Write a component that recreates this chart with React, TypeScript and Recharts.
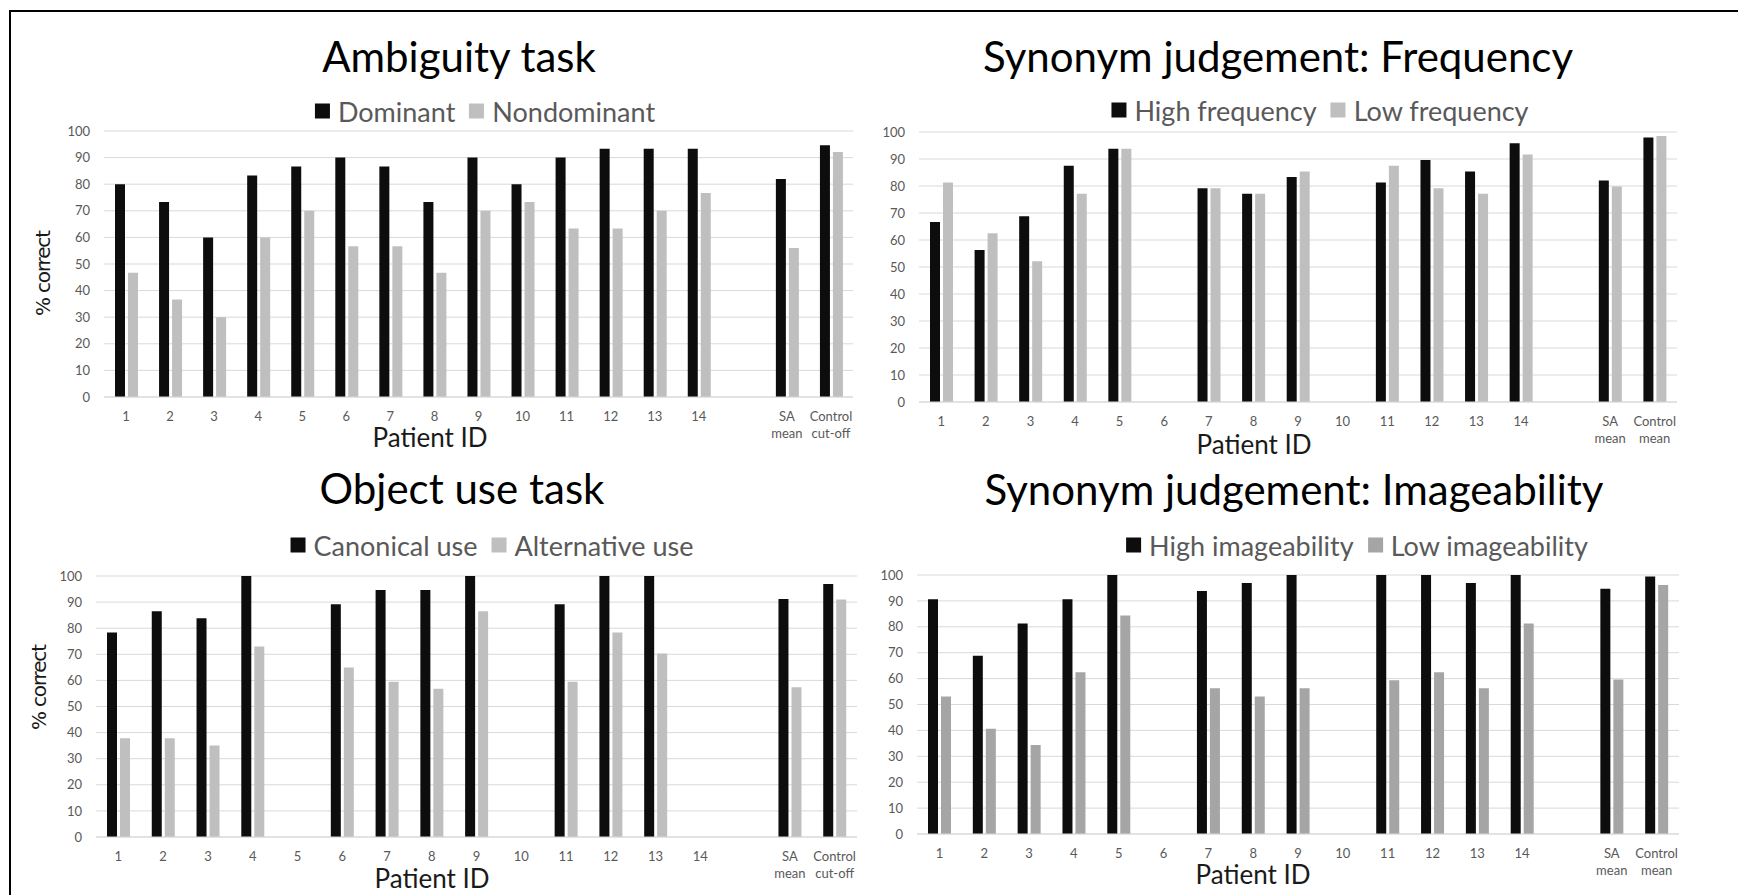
import { BarChart, Bar, XAxis, YAxis, CartesianGrid } from 'recharts';

// patient IDs, one empty slot, then the two summary columns
const PATIENTS = ['1', '2', '3', '4', '5', '6', '7', '8', '9', '10', '11', '12', '13', '14', ' '];
const CUTOFF_CATS = [...PATIENTS, 'SA\nmean', 'Control\ncut-off'];
const MEAN_CATS = [...PATIENTS, 'SA\nmean', 'Control\nmean'];
const Y_TICKS = [0, 10, 20, 30, 40, 50, 60, 70, 80, 90, 100];

// Ambiguity task (% correct)
const dominant = [80, 73.3, 60, 83.3, 86.7, 90, 86.7, 73.3, 90, 80, 90, 93.3, 93.3, 93.3, null, 82, 94.6];
const nondominant = [46.7, 36.7, 30, 60, 70, 56.7, 56.7, 46.7, 70, 73.3, 63.3, 63.3, 70, 76.7, null, 56, 92.1];

// Synonym judgement: frequency
const highFreq = [66.7, 56.3, 68.8, 87.5, 93.8, null, 79.2, 77.1, 83.3, null, 81.3, 89.6, 85.4, 95.8, null, 82, 98];
const lowFreq = [81.3, 62.5, 52.1, 77.1, 93.8, null, 79.2, 77.1, 85.4, null, 87.5, 79.2, 77.1, 91.7, null, 79.8, 98.5];

// Object use task
const canonical = [78.4, 86.5, 83.8, 100, null, 89.2, 94.6, 94.6, 100, null, 89.2, 100, 100, null, null, 91.2, 96.9];
const alternative = [37.8, 37.8, 35.1, 73, null, 64.9, 59.5, 56.8, 86.5, null, 59.5, 78.4, 70.3, null, null, 57.4, 91];

// Synonym judgement: imageability
const highImg = [90.6, 68.8, 81.3, 90.6, 100, null, 93.8, 96.9, 100, null, 100, 100, 96.9, 100, null, 94.7, 99.4];
const lowImg = [53.1, 40.6, 34.4, 62.5, 84.4, null, 56.3, 53.1, 56.3, null, 59.4, 62.5, 56.3, 81.3, null, 59.7, 96.1];

const BLACK = '#0d0d0d';
const LIGHT = '#bfbfbf';
const MID = '#a5a5a5';
const FONT = 'Lato, "Open Sans", sans-serif';

function rows(cats: string[], a: (number | null)[], b: (number | null)[]) {
  return cats.map((id, i) => ({ id, a: a[i], b: b[i] }));
}

function XTick({ x, y, payload }: any) {
  const lines = String(payload.value).split('\n');
  return (
    <text x={x} y={y} textAnchor="middle" fill="#595959" fontSize={13} fontFamily={FONT}>
      {lines.map((l, i) => (
        <tspan key={i} x={x} y={y + 24 + i * 17}>
          {l}
        </tspan>
      ))}
    </text>
  );
}

type Plot = { x0: number; x1: number; y0: number; y1: number };

function Panel({ plot, data, names, colors }: { plot: Plot; data: any[]; names: string[]; colors: string[] }) {
  const { x0, x1, y0, y1 } = plot;
  const padL = 70, padT = 12, padR = 12, padB = 58;
  return (
    <div style={{ position: 'absolute', left: x0 - padL, top: y0 - padT }}>
      <BarChart
        width={x1 - x0 + padL + padR}
        height={y1 - y0 + padT + padB}
        data={data}
        margin={{ top: padT, right: padR, bottom: 0, left: padL - 50 }}
        barSize={10}
        barGap={3}
      >
        <CartesianGrid vertical={false} stroke="#d9d9d9" />
        <XAxis
          dataKey="id"
          height={padB}
          interval={0}
          tickSize={0}
          tickMargin={0}
          tickLine={false}
          axisLine={{ stroke: '#d9d9d9' }}
          tick={<XTick />}
        />
        <YAxis
          width={50}
          domain={[0, 100]}
          ticks={Y_TICKS}
          tickSize={0}
          tickMargin={14}
          tickLine={false}
          axisLine={false}
          tick={{ fill: '#595959', fontSize: 13, fontFamily: FONT }}
        />
        <Bar dataKey="a" name={names[0]} fill={colors[0]} isAnimationActive={false} />
        <Bar dataKey="b" name={names[1]} fill={colors[1]} isAnimationActive={false} />
      </BarChart>
    </div>
  );
}

function Title({ text, cx, cy }: { text: string; cx: number; cy: number }) {
  return (
    <div
      style={{
        position: 'absolute', left: cx, top: cy, transform: 'translate(-50%, -50%)',
        fontSize: 42, color: '#000', whiteSpace: 'nowrap', lineHeight: 1,
      }}
    >
      {text}
    </div>
  );
}

function LegendRow({ names, colors, cx, cy }: { names: string[]; colors: string[]; cx: number; cy: number }) {
  return (
    <div
      style={{
        position: 'absolute', left: cx, top: cy, transform: 'translate(-50%, -50%)',
        display: 'flex', alignItems: 'center', whiteSpace: 'nowrap',
        fontSize: 27, color: '#595959', lineHeight: 1,
      }}
    >
      {names.map((n, i) => (
        <div key={n} style={{ display: 'flex', alignItems: 'center', marginLeft: i ? 14 : 0 }}>
          <span style={{ width: 15, height: 15, background: colors[i], marginRight: 8 }} />
          <span>{n}</span>
        </div>
      ))}
    </div>
  );
}

function AxisText({ text, cx, cy, size }: { text: string; cx: number; cy: number; size: number }) {
  return (
    <div
      style={{
        position: 'absolute', left: cx, top: cy, transform: 'translate(-50%, -50%)',
        fontSize: size, color: '#1a1a1a', whiteSpace: 'nowrap', lineHeight: 1,
      }}
    >
      {text}
    </div>
  );
}

// rotated y axis title, drawn as svg text so its length is fixed
function YTitle({ cx, cy }: { cx: number; cy: number }) {
  return (
    <svg style={{ position: 'absolute', left: cx - 15, top: cy - 60 }} width={30} height={120}>
      <text
        x={15}
        y={60}
        transform="rotate(-90 15 60)"
        textAnchor="middle"
        dominantBaseline="central"
        fontSize={20}
        fontFamily='"DejaVu Sans", "Open Sans", sans-serif'
        fill="#1a1a1a"
        textLength={86}
        lengthAdjust="spacing"
      >
        % correct
      </text>
    </svg>
  );
}

export default function App() {
  const n1 = ['Dominant', 'Nondominant'];
  const n2 = ['High frequency', 'Low frequency'];
  const n3 = ['Canonical use', 'Alternative use'];
  const n4 = ['High imageability', 'Low imageability'];
  return (
    <div
      style={{
        position: 'absolute', left: 0, top: 0, width: 1738, height: 895,
        background: '#fff', fontFamily: FONT, overflow: 'hidden',
      }}
    >
      <div
        style={{
          position: 'absolute', left: 9, top: 10, width: 1729, height: 885,
          borderTop: '2px solid #000', borderLeft: '2px solid #000',
        }}
      />

      <Title text="Ambiguity task" cx={459} cy={56} />
      <LegendRow names={n1} colors={[BLACK, LIGHT]} cx={485} cy={111} />
      <Panel plot={{ x0: 104, x1: 853, y0: 131, y1: 397 }} data={rows(CUTOFF_CATS, dominant, nondominant)} names={n1} colors={[BLACK, LIGHT]} />
      <AxisText text="Patient ID" cx={430} cy={437} size={26} />
      <YTitle cx={43} cy={273} />

      <Title text="Synonym judgement: Frequency" cx={1278} cy={56} />
      <LegendRow names={n2} colors={[BLACK, LIGHT]} cx={1320} cy={110} />
      <Panel plot={{ x0: 919, x1: 1677, y0: 132, y1: 402 }} data={rows(MEAN_CATS, highFreq, lowFreq)} names={n2} colors={[BLACK, LIGHT]} />
      <AxisText text="Patient ID" cx={1254} cy={444} size={26} />

      <Title text="Object use task" cx={462} cy={488} />
      <LegendRow names={n3} colors={[BLACK, LIGHT]} cx={492} cy={545} />
      <Panel plot={{ x0: 96, x1: 857, y0: 576, y1: 837 }} data={rows(CUTOFF_CATS, canonical, alternative)} names={n3} colors={[BLACK, LIGHT]} />
      <AxisText text="Patient ID" cx={432} cy={878} size={26} />
      <YTitle cx={39} cy={687} />

      <Title text="Synonym judgement: Imageability" cx={1294} cy={489} />
      <LegendRow names={n4} colors={[BLACK, MID]} cx={1357} cy={545} />
      <Panel plot={{ x0: 917, x1: 1679, y0: 575, y1: 834 }} data={rows(MEAN_CATS, highImg, lowImg)} names={n4} colors={[BLACK, MID]} />
      <AxisText text="Patient ID" cx={1253} cy={874} size={26} />
    </div>
  );
}
